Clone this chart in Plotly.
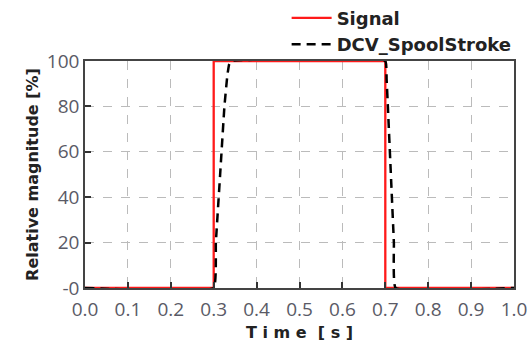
import plotly.graph_objects as go

# Signal (step command)
sig_t = [0.0, 0.3, 0.3, 0.7, 0.7, 1.0]
sig_v = [0, 0, 100, 100, 0, 0]

# DCV spool stroke response
spool_t = [0.0, 0.300, 0.305, 0.315, 0.325, 0.332, 0.336, 0.340, 0.700, 0.703, 0.706, 0.713, 0.720, 0.724, 1.0]
spool_v = [0, 0, 20, 50, 80, 94, 98.5, 100, 100, 92, 80, 50, 20, 0, 0]

x_ticks = [0.0, 0.1, 0.2, 0.3, 0.4, 0.5, 0.6, 0.7, 0.8, 0.9, 1.0]
y_ticks = [0, 20, 40, 60, 80, 100]
y_ticklabels = ["-0", "20", "40", "60", "80", "100"]

fig = go.Figure()
fig.add_trace(go.Scatter(x=sig_t, y=sig_v, mode="lines", name="Signal",
                         line=dict(color="#ff1a1a", width=2.3)))
fig.add_trace(go.Scatter(x=spool_t, y=spool_v, mode="lines", name="DCV_SpoolStroke",
                         line=dict(color="black", width=2.5, dash="9px,6px", shape="spline", smoothing=0.3)))

tick_font = dict(family="Open Sans", size=19, color="#5a5a66")
title_font = dict(family="DejaVu Sans", size=16, color="#222222", weight="bold")
fig.update_layout(
    width=531, height=346,
    margin=dict(l=85, r=17, t=61, b=58, autoexpand=False),
    paper_bgcolor="white", plot_bgcolor="white",
    showlegend=True,
    legend=dict(x=0.47, y=1.27, xanchor="left", yanchor="top",
                font=dict(family="DejaVu Sans", size=18, color="#222222", weight="bold"),
                bgcolor="rgba(0,0,0,0)", tracegroupgap=0, itemwidth=40),
    xaxis=dict(range=[0, 1.0], tickvals=x_ticks, ticktext=[f"{v:.1f}" for v in x_ticks],
               tickfont=tick_font, ticks="inside", ticklen=6, tickcolor="#333", tickwidth=1.5,
               ticklabelstandoff=3,
               showline=True, linecolor="#444", linewidth=1.5, mirror=True,
               showgrid=True, gridcolor="#bbbbbb", griddash="dash", gridwidth=1,
               zeroline=False, automargin=False,
               title=dict(text="T i m e  [ s ]", font=title_font, standoff=6)),
    yaxis=dict(range=[0, 100], tickvals=y_ticks, ticktext=y_ticklabels,
               tickfont=tick_font, ticks="inside", ticklen=6, tickcolor="#333", tickwidth=1.5,
               showline=True, linecolor="#444", linewidth=1.5, mirror=True,
               showgrid=True, gridcolor="#bbbbbb", griddash="dash", gridwidth=1,
               zeroline=False, automargin=False,
               title=dict(text="Relative magnitude [%]", font=title_font, standoff=4)),
)

fig.write_html("out.html")
